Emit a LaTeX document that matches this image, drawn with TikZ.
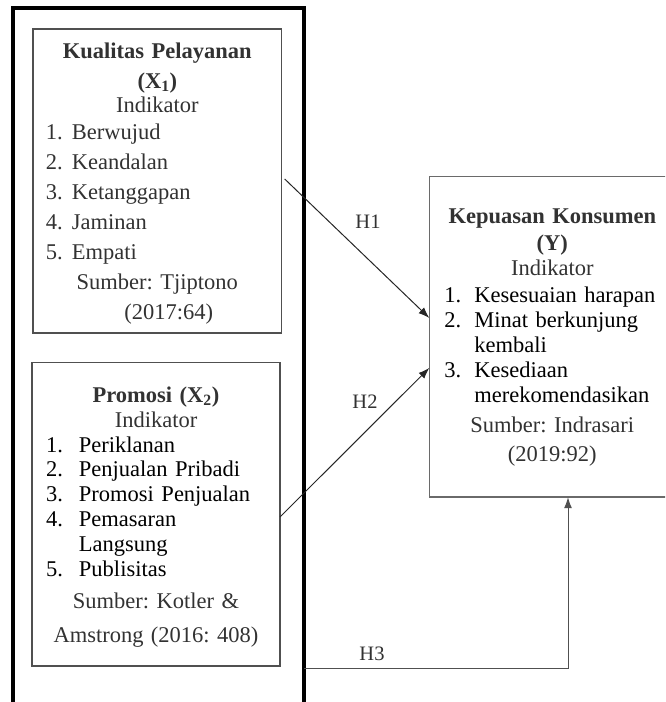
\documentclass[tikz,border=0pt]{standalone}
\usepackage{fontspec}
\setmainfont{Liberation Serif}
\usetikzlibrary{arrows.meta}
\definecolor{abu}{RGB}{50,50,50}
\definecolor{garis}{RGB}{80,80,80}
\newcommand{\butir}[4]{\makebox[#1][l]{\makebox[#2][l]{#3}#4}}
\frenchspacing

\begin{document}
\begin{tikzpicture}[x=1pt,y=-1pt,
  kotak/.style={draw=garis, line width=1.3pt, inner sep=0pt, outer sep=0pt, anchor=north west},
  isi/.style={inner sep=0pt, anchor=base, text width=#1, align=center, text=abu},
  panah/.style={-{Latex[length=11pt,width=8pt]}, line width=1pt, draw=black!85},
  hipotesis/.style={text=abu, inner sep=0pt, font=\fontsize{20.5}{24}\selectfont}]
\useasboundingbox (0,0) rectangle (665,702);
\clip (0,0) rectangle (665,702);
% kerangka luar
\node[kotak, draw=black, line width=3.8pt, minimum width=291pt, minimum height=720pt] (bingkai) at (13,8) {};
% kotak variabel
\node[kotak, minimum width=248.7pt, minimum height=304pt] (kualitas) at (33,29) {};
\node[kotak, minimum width=248pt, minimum height=303.3pt] (promosi) at (32,362.7) {};
\node[kotak, draw=garis!85, line width=1.5pt, minimum width=246pt, minimum height=320.5pt] (kepuasan) at (429.3,176.7) {};

\node[isi=248.7pt, font=\fontsize{22.5}{30}\selectfont] (teksX1) at (157.35,58) {%
  \textbf{Kualitas Pelayanan}\\
  \textbf{(X\textsubscript{1})}\\[-6pt]
  Indikator\\[-3pt]
  \butir{223pt}{26pt}{1.}{Berwujud}\\
  \butir{223pt}{26pt}{2.}{Keandalan}\\
  \butir{223pt}{26pt}{3.}{Ketanggapan}\\
  \butir{223pt}{26pt}{4.}{Jaminan}\\
  \butir{223pt}{26pt}{5.}{Empati}\\
  Sumber: Tjiptono\\
  \hspace*{23pt}(2017:64)};

\node[isi=248pt, font=\fontsize{22.5}{24.8}\selectfont] (teksX2) at (156,402) {%
  \textbf{Promosi (X\textsubscript{2})}\\[0.5pt]
  Indikator\\
  \color{black}
  \butir{220pt}{33pt}{1.}{Periklanan}\\
  \butir{220pt}{33pt}{2.}{Penjualan Pribadi}\\
  \butir{220pt}{33pt}{3.}{Promosi Penjualan}\\
  \butir{220pt}{33pt}{4.}{Pemasaran}\\
  \butir{220pt}{33pt}{}{Langsung}\\
  \butir{220pt}{33pt}{5.}{Publisitas}\\[7.6pt]
  \color{abu}Sumber: Kotler \&\\[9.2pt]
  Amstrong (2016: 408)};

\node[isi=246pt, font=\fontsize{22.5}{25}\selectfont] (teksY) at (552.3,223) {%
  \textbf{Kepuasan Konsumen}\\[2pt]
  \textbf{(Y)}\\
  Indikator\\[2pt]
  \color{black}
  \butir{216pt}{30pt}{1.}{Kesesuaian harapan}\\
  \butir{216pt}{30pt}{2.}{Minat berkunjung}\\
  \butir{216pt}{30pt}{}{kembali}\\
  \butir{216pt}{30pt}{3.}{Kesediaan}\\
  \butir{216pt}{30pt}{}{merekomendasikan}\\[5pt]
  \color{abu}Sumber: Indrasari\\[4pt]
  (2019:92)};

% hubungan
\coordinate (awalH3) at (304,668.3);
\draw[panah] ([xshift=3pt,yshift=2pt]kualitas.east) -- ([yshift=19pt]kepuasan.west);
\draw[panah] ([yshift=-2.6pt]promosi.east) -- ([yshift=-31pt]kepuasan.west);
\draw[panah, draw=garis] (awalH3) -| ([xshift=138.7pt]kepuasan.south west);
\node[hipotesis] (h1) at (368,221.5) {H1};
\node[hipotesis] (h2) at (365,401.5) {H2};
\node[hipotesis] (h3) at (372,654) {H3};
\end{tikzpicture}
\end{document}
